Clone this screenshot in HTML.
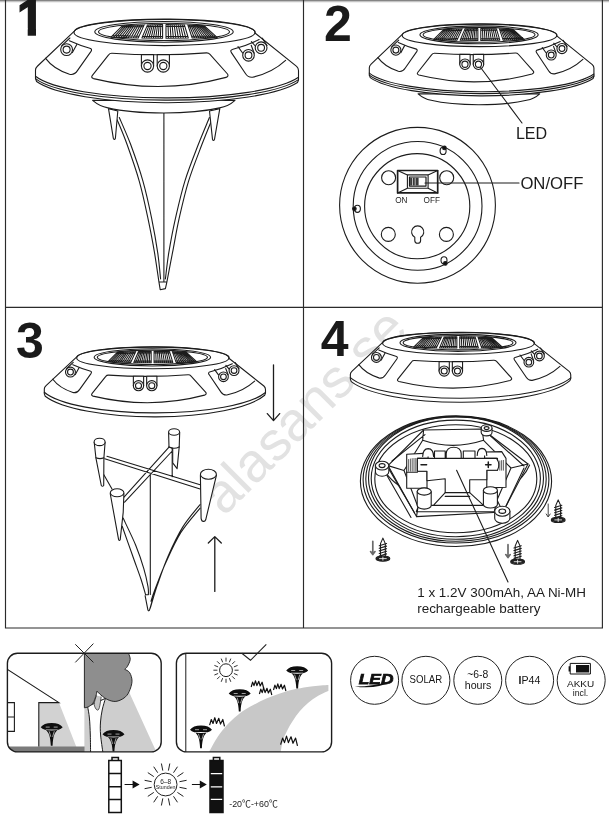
<!DOCTYPE html>
<html lang="en"><head><meta charset="utf-8"><title>Solar ground light - instructions</title>
<style>
html,body{margin:0;padding:0;background:#fff}
svg{display:block;will-change:transform;transform:translateZ(0)}
text{font-family:"Liberation Sans","Noto Sans CJK SC",sans-serif;fill:#1c1c1c}
.ln{stroke:#1c1c1c;stroke-width:1.1;fill:none;stroke-linecap:round;stroke-linejoin:round}
.ns *,#lamp *,#lampB *{vector-effect:non-scaling-stroke}
.hat{stroke-width:1.05}
.num{font-weight:bold;font-size:50px;fill:#1a1a1a}
.ic{fill:#151515}
.frame{stroke:#2b2b2b;stroke-width:1.15;fill:none}
</style></head><body>
<svg width="609" height="824" viewBox="0 0 609 824">
<rect width="609" height="824" fill="#fff"/>
<defs>
<g id="lamp" fill="none">
<path fill="#fff" d="M74.1 31.4 L37.6 66 Q35.5 68 35.5 70 L35.5 78.5 L36.6 81.5 A137 29.8 0 0 0 297.5 82.5 L298.5 80.0 L298.5 70.5 Q298.5 68.2 296.6 66.4 L255 33 A90.5 13.05 0 0 0 74.1 31.4Z"/>
<ellipse cx="164.5" cy="32.55" rx="90.5" ry="13.05"/>
<ellipse cx="164" cy="31.85" rx="69.2" ry="10.35"/>
<ellipse cx="164" cy="31.85" rx="65.5" ry="8.65"/>
<path class="hat" d="M122.5 25.7L111.0 37.2M124.5 25.6L113.5 37.3M126.4 25.6L115.9 37.3M128.4 25.5L118.4 37.4M130.4 25.4L120.9 37.5M132.4 25.3L123.4 37.6M134.3 25.3L125.8 37.6M136.3 25.2L128.3 37.7M138.3 25.1L130.8 37.8M140.3 25.0L133.3 37.9M142.2 25.0L135.7 37.9M144.2 24.9L138.2 38.0M121.1 27.1L143.5 26.5M112.6 35.6L139.0 36.2M122.5 25.7L144.2 24.9L138.2 38L111 37.2ZM147.5 24.9L141.9 38.0M149.2 24.9L144.2 38.0M150.9 24.8L146.5 38.1M152.5 24.8L148.8 38.1M154.2 24.8L151.1 38.1M155.9 24.7L153.4 38.2M157.6 24.7L155.7 38.2M159.2 24.7L158.0 38.2M160.9 24.6L160.3 38.3M162.6 24.6L162.6 38.3M146.8 26.5L162.6 26.2M142.7 36.2L162.6 36.4M147.5 24.9L162.6 24.6L162.6 38.3L141.9 38ZM166.0 24.6L166.0 38.3M168.0 24.6L168.5 38.3M170.1 24.7L171.0 38.2M172.1 24.7L173.4 38.2M174.2 24.7L175.9 38.2M176.2 24.8L178.4 38.1M178.3 24.8L180.9 38.1M180.3 24.8L183.3 38.1M182.4 24.9L185.8 38.0M184.4 24.9L188.3 38.0M166.0 26.2L184.9 26.5M166.0 36.4L187.8 36.2M166 24.6L184.4 24.9L188.3 38L166 38.3ZM187.8 24.9L192.2 38.0M189.3 25.0L194.5 38.0M190.8 25.0L196.8 37.9M192.3 25.1L199.0 37.9M193.8 25.2L201.3 37.9M195.3 25.3L203.6 37.8M196.7 25.3L205.9 37.8M198.2 25.4L208.2 37.7M199.7 25.5L210.5 37.7M201.2 25.6L212.7 37.7M202.7 25.6L215.0 37.6M204.2 25.7L217.3 37.6M188.3 26.5L205.8 27.1M191.6 36.2L215.5 35.9M187.8 24.9L204.2 25.7L217.3 37.6L192.2 38Z"/>
<path d="M112 53.3 Q160 56.5 206.5 52.9 Q208.6 52.8 210 54.4 L227.5 74 Q229 76.2 226 77.4 Q161 95 93.5 78.6 Q90.6 77.6 92.4 75.3 L108.6 54.8 Q109.8 53.2 112 53.3Z"/>
<path fill="#fff" d="M141.4 66 L141.4 54.6 L153.6 54.6 L153.6 66"/>
<circle fill="#fff" cx="147.5" cy="66" r="6.1"/><circle cx="147.5" cy="66" r="3.6"/>
<path fill="#fff" d="M157.20000000000002 66 L157.20000000000002 54.6 L169.4 54.6 L169.4 66"/>
<circle fill="#fff" cx="163.3" cy="66" r="6.1"/><circle cx="163.3" cy="66" r="3.6"/>
<path d="M69.4 40.7 Q80 45.5 89.8 48.2 Q92.6 49 91 51.4 L77.6 70.4 Q74.4 75.4 69.5 74.2 Q53.5 69 45.6 58.3"/>
<path fill="#fff" d="M61.8 45.6 L69.9 38 M72.4 52.6 L76.8 44.4"/>
<circle fill="#fff" cx="66.6" cy="49.6" r="5.9"/><circle cx="66.6" cy="49.6" r="3.5"/>
<path d="M259.1 39.6 Q246 46 233 49.3 Q229.6 50.2 231.4 52.6 L245.6 73.8 Q248 77.6 252.5 77.2 Q272 73 285.6 60.4"/>
<path d="M242.6 53 L238 46.6 M254.2 53.2 L251.2 45.3 M255.3 46 L251.4 41.6 M267 45.6 L262.4 38.2"/>
<circle fill="#fff" cx="248.5" cy="55.3" r="5.8"/><circle cx="248.5" cy="55.3" r="3.4"/>
<circle fill="#fff" cx="261.1" cy="47.8" r="5.9"/><circle cx="261.1" cy="47.8" r="3.4"/>
</g>
<g id="lampB" fill="none">
<path fill="#fff" d="M74.1 31.4 L37.6 66 Q35.5 68 35.5 70 L35.5 75.7 L36.6 78.7 A137 36.6 0 0 0 297.5 77.5 L298.5 75.0 L298.5 70.5 Q298.5 68.2 296.6 66.4 L255 33 A90.5 13.05 0 0 0 74.1 31.4Z"/>
<ellipse cx="164.5" cy="32.55" rx="90.5" ry="13.05"/>
<ellipse cx="164" cy="31.85" rx="69.2" ry="10.35"/>
<ellipse cx="164" cy="31.85" rx="65.5" ry="8.65"/>
<path class="hat" d="M122.5 25.7L111.0 37.2M124.5 25.6L113.5 37.3M126.4 25.6L115.9 37.3M128.4 25.5L118.4 37.4M130.4 25.4L120.9 37.5M132.4 25.3L123.4 37.6M134.3 25.3L125.8 37.6M136.3 25.2L128.3 37.7M138.3 25.1L130.8 37.8M140.3 25.0L133.3 37.9M142.2 25.0L135.7 37.9M144.2 24.9L138.2 38.0M121.1 27.1L143.5 26.5M112.6 35.6L139.0 36.2M122.5 25.7L144.2 24.9L138.2 38L111 37.2ZM147.5 24.9L141.9 38.0M149.2 24.9L144.2 38.0M150.9 24.8L146.5 38.1M152.5 24.8L148.8 38.1M154.2 24.8L151.1 38.1M155.9 24.7L153.4 38.2M157.6 24.7L155.7 38.2M159.2 24.7L158.0 38.2M160.9 24.6L160.3 38.3M162.6 24.6L162.6 38.3M146.8 26.5L162.6 26.2M142.7 36.2L162.6 36.4M147.5 24.9L162.6 24.6L162.6 38.3L141.9 38ZM166.0 24.6L166.0 38.3M168.0 24.6L168.5 38.3M170.1 24.7L171.0 38.2M172.1 24.7L173.4 38.2M174.2 24.7L175.9 38.2M176.2 24.8L178.4 38.1M178.3 24.8L180.9 38.1M180.3 24.8L183.3 38.1M182.4 24.9L185.8 38.0M184.4 24.9L188.3 38.0M166.0 26.2L184.9 26.5M166.0 36.4L187.8 36.2M166 24.6L184.4 24.9L188.3 38L166 38.3ZM187.8 24.9L192.2 38.0M189.3 25.0L194.5 38.0M190.8 25.0L196.8 37.9M192.3 25.1L199.0 37.9M193.8 25.2L201.3 37.9M195.3 25.3L203.6 37.8M196.7 25.3L205.9 37.8M198.2 25.4L208.2 37.7M199.7 25.5L210.5 37.7M201.2 25.6L212.7 37.7M202.7 25.6L215.0 37.6M204.2 25.7L217.3 37.6M188.3 26.5L205.8 27.1M191.6 36.2L215.5 35.9M187.8 24.9L204.2 25.7L217.3 37.6L192.2 38Z"/>
<path d="M112 53.3 Q160 56.5 206.5 52.9 Q208.6 52.8 210 54.4 L227.5 74 Q229 76.2 226 77.4 Q161 95 93.5 78.6 Q90.6 77.6 92.4 75.3 L108.6 54.8 Q109.8 53.2 112 53.3Z"/>
<path fill="#fff" d="M141.4 66 L141.4 54.6 L153.6 54.6 L153.6 66"/>
<circle fill="#fff" cx="147.5" cy="66" r="6.1"/><circle cx="147.5" cy="66" r="3.6"/>
<path fill="#fff" d="M157.20000000000002 66 L157.20000000000002 54.6 L169.4 54.6 L169.4 66"/>
<circle fill="#fff" cx="163.3" cy="66" r="6.1"/><circle cx="163.3" cy="66" r="3.6"/>
<path d="M69.4 40.7 Q80 45.5 89.8 48.2 Q92.6 49 91 51.4 L77.6 70.4 Q74.4 75.4 69.5 74.2 Q53.5 69 45.6 58.3"/>
<path fill="#fff" d="M61.8 45.6 L69.9 38 M72.4 52.6 L76.8 44.4"/>
<circle fill="#fff" cx="66.6" cy="49.6" r="5.9"/><circle cx="66.6" cy="49.6" r="3.5"/>
<path d="M259.1 39.6 Q246 46 233 49.3 Q229.6 50.2 231.4 52.6 L245.6 73.8 Q248 77.6 252.5 77.2 Q272 73 285.6 60.4"/>
<path d="M242.6 53 L238 46.6 M254.2 53.2 L251.2 45.3 M255.3 46 L251.4 41.6 M267 45.6 L262.4 38.2"/>
<circle fill="#fff" cx="248.5" cy="55.3" r="5.8"/><circle cx="248.5" cy="55.3" r="3.4"/>
<circle fill="#fff" cx="261.1" cy="47.8" r="5.9"/><circle cx="261.1" cy="47.8" r="3.4"/>
</g>
</defs>
<text transform="translate(224 517) rotate(-45)" font-size="55" style="fill:#e2e2e2">alasans.se</text>
<rect x="0" y="0" width="609" height="1" fill="#858585"/><rect x="0" y="1" width="609" height="1" fill="#c4c4c4"/><rect x="0" y="2" width="609" height="1" fill="#efefef"/>
<path class="frame" d="M5.5 0V628H602.4V0 M303.5 0V628 M5.5 307.4H602.4"/>
<text class="num" x="16.7" y="34.6" style="stroke:#1a1a1a;stroke-width:1.3px">1</text>
<path fill="#fff" d="M8 28.6H27.7V38H8Z M36 28.6H47V38H36Z"/>
<text class="num" x="323.9" y="41">2</text>
<text class="num" x="16" y="357.7">3</text>
<text class="num" x="320.7" y="355.6">4</text>
<g class="ln">
<path d="M163.9 113V282 M117.1 119.7C118.8 123.8 123.3 134.0 127.0 144.3C130.7 154.6 135.8 169.0 139.3 181.3C142.8 193.6 145.4 206.3 147.9 218.2C150.4 230.1 152.7 242.0 154.5 252.7C156.3 263.4 158.2 277.4 159.0 282.3M119.3 117.5C121.2 122.0 126.6 133.7 130.6 144.3C134.5 154.9 139.5 169.0 143.0 181.3C146.5 193.6 149.2 206.3 151.6 218.2C154.0 230.1 156.2 242.6 157.7 252.7C159.2 262.8 160.1 274.6 160.6 279.0M211.9 119.7C210.2 123.8 205.9 134.0 202.0 144.3C198.1 154.6 192.3 169.0 188.5 181.3C184.7 193.6 181.9 206.3 179.2 218.2C176.5 230.1 174.6 242.0 172.5 252.7C170.4 263.4 167.8 277.4 166.8 282.3M209.4 117.5C207.6 122.0 202.5 133.7 198.4 144.3C194.3 154.9 188.6 169.0 184.8 181.3C181.0 193.6 178.2 206.3 175.5 218.2C172.8 230.1 170.5 242.6 168.8 252.7C167.1 262.8 166.0 274.6 165.4 279.0M159 282.3L160.2 289.7L165.4 288.6L166.8 282.3 M159 282H166.8"/>
<path fill="#fff" d="M108.5 108.6L113.3 138.2Q114.4 140.6 115.4 138.2L117.8 111Z M219.8 108.6L214.5 139.4Q213.4 141.4 212.5 139.4L209.5 111Z"/>
<path fill="#fff" d="M92.6 100.4C98 105 103 107 107.9 107.9C125 112 145 113 163.7 113S202 112 219.6 107.9C225 107 230 105 235 100.4Z"/>
<g class="ns" transform="translate(0.00 0.00) scale(1 1)"><use href="#lamp"/><path fill="none" d="M35.5 76.3A137 29.3 0 0 0 298.5 77.3M35.5 78.6A137 29.2 0 0 0 298.5 79.6"/></g>
</g>
<g class="ln">
<g class="ns" transform="translate(339 7.4) scale(.854 .861)"><path fill="#fff" d="M92.6 100.4C98 105 103 107 107.9 107.9C125 112 145 113 163.7 113S202 112 219.6 107.9C225 107 230 105 235 100.4Z"/><use href="#lamp"/><path fill="none" d="M35.5 76.3A137 29.3 0 0 0 298.5 77.3M35.5 78.6A137 29.2 0 0 0 298.5 79.6"/></g>
<path d="M480.6 67.5L522 123"/>
<circle cx="417.5" cy="205.3" r="77.9"/><circle cx="417.6" cy="205.9" r="64.4"/><circle cx="417.2" cy="206.2" r="52.6"/>
<circle cx="388.6" cy="177.7" r="7"/>
<circle cx="446.7" cy="177.7" r="7"/>
<circle cx="388.3" cy="234.4" r="7"/>
<circle cx="446.4" cy="234.4" r="7"/>
<path d="M414.8 237.3A6.1 6.1 0 1 1 420.6 237.3L420.6 240.4A2.9 2.9 0 0 1 414.8 240.4Z"/>
<path stroke-width="1.7" d="M397.6 170.5H437.7V192.9H397.6Z"/>
<path d="M397.6 170.5L407.4 174.9H428.1L437.7 170.5M397.6 192.9L407.4 188.2H428.1L437.7 192.9M407.4 174.9V188.2M428.1 174.9V188.2"/>
<path fill="#fff" stroke-width="1.2" d="M409.5 177H426V186.1H409.5Z"/>
<path fill="#3a3a3a" stroke="none" d="M410.1 177.6H418.6V185.5H410.1Z"/>
<path stroke="#ddd" stroke-width=".8" d="M412.5 178.2V185M415.2 178.2V185"/>
<path d="M425 183H519"/>
<ellipse cx="443.1" cy="150.9" rx="3" ry="3.6"/><circle cx="444.4" cy="147.9" r="1.8" fill="#111"/>
<ellipse cx="357.4" cy="208.8" rx="3" ry="3.6"/><circle cx="354.4" cy="208.8" r="1.8" fill="#111"/>
<ellipse cx="444" cy="260.3" rx="3" ry="3.6"/><circle cx="445.3" cy="263.4" r="1.8" fill="#111"/>
</g>
<text x="515.9" y="138.8" font-size="16.1">LED</text>
<text x="520.4" y="188.5" font-size="16.7">ON/OFF</text>
<text x="395.2" y="202.7" font-size="8.2">ON</text>
<text x="423.6" y="202.7" font-size="8.2">OFF</text>
<g class="ln">
<g class="ns" transform="translate(14.45 330.9) scale(.841 .83)"><use href="#lampB"/><path fill="none" d="M35.5 73.9A137 34.4 0 0 0 298.5 74.2"/></g>
<path d="M172.2 448V476.7 M103.7 474.5L112 489.1 M150.3 475V594.5 M106.9 456.3L200.1 484.7 M104.7 458.8L200.1 489.1 M169 447.1L124 497.1 M174.1 449L124.6 502.2M122.2 526.2C123.8 530.9 128.9 545.3 132.1 554.2C135.2 563.1 138.8 572.7 141.1 579.5C143.3 586.3 144.8 592.2 145.6 594.8M123.1 518.1C125.2 522.6 132.2 536.8 135.7 545.2C139.1 553.6 141.8 561.7 143.8 568.6C145.9 575.5 147.2 582.3 148.0 586.7C148.8 591.1 148.3 593.4 148.4 594.8H145.6M200.1 504.5C197.2 508.3 188.0 518.5 182.7 527.1C177.4 535.7 172.4 546.4 168.2 556.0C164.0 565.6 160.4 576.2 157.4 584.9C154.4 593.6 151.4 604.5 150.2 608.4M200.1 508.1C196.9 512.2 186.7 523.3 180.9 532.5C175.1 541.7 169.9 553.6 165.5 563.2C161.1 572.8 157.1 584.0 154.7 590.3C152.3 596.6 151.6 599.4 151.0 601.2 M145.1 595.7L148 610.3Q148.7 611.4 149.4 610.3L152.9 598.4"/>
<path fill="#fff" d="M94.2 442.2L95.9 457.8L101.3 485.5Q102.5 487 103.7 485.5L103.9 457.8L105.1 442.2Z"/><path d="M95.9 457.8Q100 459.4 103.9 457.8"/><ellipse fill="#fff" cx="99.6" cy="441.9" rx="5.5" ry="3.7"/>
<path fill="#fff" d="M168.6 432.3L169 446.9L172.7 448.3L172.7 462.9L177.1 468.7L179.2 446.9L179.7 432.3Z"/><path d="M169 446.9Q174 449.6 179.2 446.9"/><ellipse fill="#fff" cx="174.1" cy="432" rx="5.5" ry="3.3"/>
<path fill="#fff" d="M110.2 493.5L118.6 539.6Q119.4 541.4 120.2 539.6L123.2 512.4L123.9 493.5Z"/><ellipse fill="#fff" cx="117.1" cy="492.8" rx="6.8" ry="4"/>
<path fill="#fff" d="M200.4 475.3L201.1 518.3Q201.6 521.6 203.6 521.4Q205 521.6 205.7 519.8L216.4 475.3Z"/><ellipse fill="#fff" cx="208.4" cy="474.3" rx="8" ry="5"/>
<path stroke-width="1.3" d="M273.5 364.8V420.4M267.3 413.6L273.5 420.6L279.7 413.6"/>
<path stroke-width="1.3" d="M214.8 591.4V537M208.3 543L214.8 536.6L221.3 543"/>
</g>
<g class="ln">
<g class="ns" transform="translate(320.6 316.3) scale(.838 .83)"><use href="#lampB"/><path fill="none" d="M35.5 73.9A137 34.4 0 0 0 298.5 74.2"/></g>
<ellipse cx="456" cy="481.2" rx="95.6" ry="65.3"/>
<ellipse cx="456" cy="479.65" rx="92.9" ry="63.35"/>
<ellipse cx="456" cy="478.95" rx="90.2" ry="62.35"/>
<ellipse cx="456" cy="478.1" rx="87.5" ry="61.2"/>
<ellipse cx="455.8" cy="478.4" rx="84.6" ry="58.3"/>
<ellipse cx="455.8" cy="478.7" rx="81" ry="54"/>
<path d="M381.6 465A76.5 49 0 0 0 529.6 465"/>
<path fill="#fff" d="M388 465.6L423.6 430L482 429L528 464L503 512L416.5 516.6Z"/>
<path d="M388 465.6L404 470.5 M423.6 430L422.7 440.3 M482 429L483.6 440.3 M528 464L511 468 M503 512L497 500 M416.5 516.6L418 507 M404 470.5L422.7 440.3Q452.6 450.5 483.6 440.3L511 468L497 500 M404 470.5L418 507 M389.3 469.6L414.6 513 M385.7 473.2L411 517.5 M392 461L425 434.6 M486.2 432L524 466 M524 468L506 506 M418 507L416.3 511.8H494.2L497 500"/>
<path fill="#fff" d="M406.7 454.2L428.1 453.1V458.4H417.4V471.2H427V488.3H406.7Z"/>
<path fill="#fff" d="M484.6 452L501.7 451.6L506 458.4V487.2L486.8 487.9V470.2H497.5V458.4H484.6Z"/>
<path stroke-width=".7" d="M408.6 459.5V471.2M410.4 459V471.2M412.2 458.6V471.2M414 458.4V471.2M415.8 458.4V471.2 M499.8 461V470.2M501.6 460.6V470.2M503.4 460.4V470.2"/>
<path d="M406.7 472.3H417.4"/>
<path fill="#fff" d="M422.7 456.4Q422.8 448.8 428.2 448.6Q433.4 448.8 433.6 456.4 M477.2 455.4Q477.4 448.6 482 448.4Q486.6 448.6 486.8 455.4 M434.5 458.4V451H445.2V458.4 M463.3 458.4V451H475V458.4 M446.2 458.4V453.6Q446.6 447.2 453.7 447.2Q460.8 447.2 461.2 453.6V458.4"/>
<path fill="#fff" d="M417.4 458.4H496.6Q500.6 464.3 497.5 470.2H486.8V479.8H469.7V492.6H445.2V478.7L427 480.8V471.2H417.4Z"/>
<path stroke-width="1.5" d="M421 464.8H426.6 M485.6 464.8H491 M488.3 462.1V467.5"/>
<path d="M445.2 492.6L433.4 505.4 M469.7 492.6L482.5 504.3 M445.2 496.4H469.7 M431.2 505.4H483.4"/>
<path fill="#fff" d="M417.2 491.5V505.5A7 3.6 0 0 0 431.2 505.5V491.5"/><ellipse fill="#fff" cx="424.2" cy="491.5" rx="7" ry="3.6"/>
<path fill="#fff" d="M483.4 490.4V504.4A7 3.6 0 0 0 497.4 504.4V490.4"/><ellipse fill="#fff" cx="490.4" cy="490.4" rx="7" ry="3.6"/>
<path fill="#fff" d="M375.40000000000003 465.6V471.8A6.7 4.4 0 0 0 388.8 471.8V465.6"/><ellipse fill="#fff" cx="382.1" cy="465.6" rx="6.7" ry="4.4"/><ellipse cx="382.1" cy="465.6" rx="3.0" ry="2.0"/>
<path fill="#fff" d="M481.20000000000005 428.1V432.6A5.4 3.3 0 0 0 492.0 432.6V428.1"/><ellipse fill="#fff" cx="486.6" cy="428.1" rx="5.4" ry="3.3"/><ellipse cx="486.6" cy="428.1" rx="2.4" ry="1.5"/>
<path fill="#fff" d="M494.7 511.2V518.2A7.6 5 0 0 0 509.90000000000003 518.2V511.2"/><ellipse fill="#fff" cx="502.3" cy="511.2" rx="7.6" ry="5"/><ellipse cx="502.3" cy="511.2" rx="3.4" ry="2.2"/>
<path d="M456.6 470.2L508 582"/>
<path fill="#fff" d="M382.9 538.1L380.5 543.6V556.5H385.29999999999995V543.6Z"/><path stroke-width="1.2" d="M379.3 545.7L386.5 543.5M379.3 548.3L386.5 546.1M379.3 550.9L386.5 548.7M379.3 553.5L386.5 551.3M379.3 556.1L386.5 553.9"/><ellipse fill="#222" cx="382.9" cy="558.6" rx="6.9" ry="2.6"/><path stroke="#fff" stroke-width=".8" d="M379.5 558.6H386.3M382.9 557.0V560.2"/>
<path fill="#fff" d="M558.2 499.9L555.8000000000001 505.4V517.8H560.6V505.4Z"/><path stroke-width="1.2" d="M554.6 507.5L561.8 505.3M554.6 510.1L561.8 507.9M554.6 512.7L561.8 510.5M554.6 515.3L561.8 513.1M554.6 517.9L561.8 515.7"/><ellipse fill="#222" cx="558.2" cy="519.9" rx="6.9" ry="2.6"/><path stroke="#fff" stroke-width=".8" d="M554.8 519.9H561.6M558.2 518.3V521.5"/>
<path fill="#fff" d="M517.6 540.4L515.2 545.9V559.6H520.0V545.9Z"/><path stroke-width="1.2" d="M514.0 548.0L521.2 545.8M514.0 550.6L521.2 548.4M514.0 553.2L521.2 551.0M514.0 555.8L521.2 553.6M514.0 558.4L521.2 556.2"/><ellipse fill="#222" cx="517.6" cy="561.7" rx="6.9" ry="2.6"/><path stroke="#fff" stroke-width=".8" d="M514.2 561.7H521.0M517.6 560.1V563.3"/>
<path stroke="#6a6a6a" stroke-width="1.7" d="M372.8 541.3V554M370.6 551.6L372.8 554.6L375 551.6 M508 544.7V557M505.8 554.6L508 557.6L510.2 554.6"/>
<path stroke="#444" stroke-width="1" d="M548.2 504V516.6M546.2 514L548.2 517L550.2 514"/>
</g>
<text x="417.2" y="596.7" font-size="13.45">1 x 1.2V 300mAh, AA Ni-MH</text>
<text x="417.2" y="612.9" font-size="13.45">rechargeable battery</text>
<clipPath id="cl"><rect x="7.4" y="653.3" width="153.8" height="98.6" rx="10" ry="10"/></clipPath>
<g clip-path="url(#cl)">
<path fill="#d2d2d2" d="M38.8 702.6H58.9L76.4 747H38.8Z"/>
<path fill="#cecece" d="M84.4 705L128.6 691L156.4 752H84.4Z"/>
<path fill="#7b7b7b" d="M9 746.4H84.6V752H9Z"/>
<path fill="#fff" stroke="#1c1c1c" stroke-width="1" d="M87.6 706.5C87.9 708.4 89.0 713.2 89.4 718.0C89.9 722.8 90.1 729.2 90.3 735.0C90.5 740.8 90.5 749.6 90.6 752.5L102.9 752.5C102.5 749.6 101.0 740.1 100.6 735.0C100.2 729.9 100.2 726.2 100.5 722.0C100.8 717.8 101.4 713.9 102.2 710.0C103.0 706.1 104.9 700.3 105.4 698.4Z"/>
<path fill="#c6c6c6" stroke="#333" stroke-width=".8" d="M96.4 695.5C96.0 697.0 94.1 701.9 94.2 704.3C94.3 706.7 96.1 709.5 97.0 710.0C97.9 710.5 98.7 709.8 99.4 707.6C100.1 705.4 100.9 698.4 101.2 696.6"/>
<path fill="#8e8e8e" stroke="#2a2a2a" stroke-width="1" stroke-linejoin="round" d="M84.4 653.5H128.6L128.6 653.5C128.9 654.5 130.4 657.4 130.2 659.5C130.0 661.6 128.3 664.8 127.4 666.4C126.5 668.0 125.2 668.8 124.8 669.3L124.8 669.3C125.6 669.9 128.5 670.7 129.7 672.7C130.9 674.7 132.1 678.1 132.0 681.3C131.9 684.5 130.4 688.9 129.1 691.7C127.8 694.5 126.2 696.4 124.0 698.0C121.8 699.6 118.6 701.1 115.9 701.4C113.2 701.7 110.4 700.8 107.9 699.7C105.4 698.7 102.8 696.5 101.0 695.1C99.2 693.7 97.7 691.8 97.0 691.1L97.0 691.1C96.8 692.0 96.5 694.3 95.8 696.3C95.1 698.3 94.2 701.5 92.9 703.2C91.7 705.0 89.7 706.0 88.3 706.8C86.9 707.6 85.1 707.6 84.4 707.8Z"/>
<path fill="none" stroke="#1c1c1c" stroke-width="1.1" d="M6.3 668.7L58.9 702.6H38.8V746.4 M7 702.6H14.4V731.4H7 M7 717H14.4"/>
<path fill="#0e0e0e" d="M40.7 727.2Q43.7 722.9 51.7 722.9Q59.7 722.9 62.7 727.2Q59.7 730.4 51.7 730.4Q43.7 730.4 40.7 727.2ZM45.5 729.4C48.7 732.3 50.4 735.8 50.8 745.8H52.6C53.0 735.8 54.7 732.3 57.9 729.4Z"/><path stroke="#ddd" stroke-width=".7" fill="none" d="M45.7 727.1H49.7M53.7 727.1H57.7M49.1 731.2L50.8 736.8M54.3 731.2L52.6 736.8"/>
<path fill="#0e0e0e" d="M102.5 734.2Q105.5 729.9 113.5 729.9Q121.5 729.9 124.5 734.2Q121.5 737.4 113.5 737.4Q105.5 737.4 102.5 734.2ZM107.3 736.4C110.5 739.3 112.2 742.8 112.6 751.6H114.4C114.8 742.8 116.5 739.3 119.7 736.4Z"/><path stroke="#ddd" stroke-width=".7" fill="none" d="M107.5 734.1H111.5M115.5 734.1H119.5M110.9 738.2L112.6 743.8M116.1 738.2L114.4 743.8"/>
</g>
<rect x="7.4" y="653.3" width="153.8" height="98.6" rx="10" ry="10" fill="none" stroke="#1c1c1c" stroke-width="1.4"/>
<path fill="none" stroke="#222" stroke-width="1" d="M75.3 644.3L93.4 662.4M93.4 643.6L75.3 662.4"/>
<clipPath id="cr"><rect x="176.4" y="653.3" width="155.2" height="98.6" rx="10" ry="10"/></clipPath>
<g clip-path="url(#cr)">
<path fill="#c8c8c8" d="M209.0 752.0C210.5 749.4 214.7 741.3 217.9 736.5C221.1 731.7 224.7 727.3 228.4 723.4C232.1 719.5 236.0 716.0 240.2 712.9C244.3 709.8 248.8 707.4 253.3 705.0C257.8 702.6 262.1 700.4 267.0 698.3C271.9 696.2 278.0 694.0 283.0 692.4C288.0 690.8 292.3 689.8 297.0 688.8C301.7 687.8 305.8 687.0 311.0 686.4C316.2 685.8 325.5 685.2 328.4 685.0L328.4 691.0C326.6 691.8 321.2 693.9 317.8 695.9C314.4 697.9 311.0 700.3 308.0 702.9C305.0 705.5 302.2 708.3 299.7 711.3C297.1 714.3 294.8 717.8 292.7 721.0C290.6 724.2 288.7 727.5 287.1 730.8C285.5 734.1 283.9 737.1 282.9 740.6C281.8 744.1 281.1 750.1 280.8 752.0Z"/>
<path fill="none" stroke="#1c1c1c" stroke-width="1" d="M185.8 653V752"/>
<path fill="#0e0e0e" d="M190.0 729.8Q193.0 725.5 201 725.5Q209.0 725.5 212.0 729.8Q209.0 733.0 201 733.0Q193.0 733.0 190.0 729.8ZM194.8 732.0C198.0 734.9 199.7 738.4 200.1 748.3H201.9C202.3 738.4 204.0 734.9 207.2 732.0Z"/><path stroke="#ddd" stroke-width=".7" fill="none" d="M195.0 729.7H199.0M203.0 729.7H207.0M198.4 733.8L200.1 739.4M203.6 733.8L201.9 739.4"/>
<path fill="#0e0e0e" d="M228.7 693.6Q231.7 689.3 239.7 689.3Q247.7 689.3 250.7 693.6Q247.7 696.8 239.7 696.8Q231.7 696.8 228.7 693.6ZM233.5 695.8C236.7 698.7 238.4 702.2 238.8 711.6H240.6C241.0 702.2 242.7 698.7 245.9 695.8Z"/><path stroke="#ddd" stroke-width=".7" fill="none" d="M233.7 693.5H237.7M241.7 693.5H245.7M237.1 697.6L238.8 703.2M242.3 697.6L240.6 703.2"/>
<path fill="#0e0e0e" d="M286.2 670.6Q289.2 666.3 297.2 666.3Q305.2 666.3 308.2 670.6Q305.2 673.8 297.2 673.8Q289.2 673.8 286.2 670.6ZM291.0 672.8C294.2 675.7 295.9 679.2 296.3 688.5H298.1C298.5 679.2 300.2 675.7 303.4 672.8Z"/><path stroke="#ddd" stroke-width=".7" fill="none" d="M291.2 670.5H295.2M299.2 670.5H303.2M294.6 674.6L296.3 680.2M299.8 674.6L298.1 680.2"/>
<path fill="none" stroke="#111" stroke-width="1.2" stroke-linejoin="round" d="M209.6 725.2L211.3 719.5L213.0 723.5L214.8 717.7L216.5 723.5L218.8 718.3L220.5 724.1L222.8 719.5L224.5 726.4"/>
<path fill="none" stroke="#111" stroke-width="1.2" stroke-linejoin="round" d="M251.2 687.0L252.6 682.2L254.0 685.6L255.5 680.8L256.9 685.6L258.8 681.3L260.2 686.0L262.1 682.2L263.6 688.0"/>
<path fill="none" stroke="#111" stroke-width="1.2" stroke-linejoin="round" d="M259.4 694.0L260.8 689.2L262.2 692.6L263.7 687.8L265.1 692.6L267.0 688.3L268.4 693.0L270.3 689.2L271.8 695.0"/>
<path fill="none" stroke="#111" stroke-width="1.2" stroke-linejoin="round" d="M273.5 690.0L274.9 685.2L276.4 688.6L277.8 683.8L279.2 688.6L281.1 684.3L282.5 689.0L284.4 685.2L285.9 691.0"/>
<path fill="none" stroke="#111" stroke-width="1.2" stroke-linejoin="round" d="M280.6 744.6L282.6 738.1L284.5 742.6L286.5 736.1L288.4 742.6L291.0 736.8L293.0 743.3L295.6 738.1L297.5 745.9"/>
<circle cx="226" cy="670.2" r="6.4" fill="#fff" stroke="#1c1c1c" stroke-width="1"/><path stroke="#1c1c1c" stroke-width=".9" d="M234.6 670.2L238.6 670.2M233.9 673.5L237.6 675.0M232.1 676.3L234.9 679.1M229.3 678.1L230.8 681.8M226.0 678.8L226.0 682.8M222.7 678.1L221.2 681.8M219.9 676.3L217.1 679.1M218.1 673.5L214.4 675.0M217.4 670.2L213.4 670.2M218.1 666.9L214.4 665.4M219.9 664.1L217.1 661.3M222.7 662.3L221.2 658.6M226.0 661.6L226.0 657.6M229.3 662.3L230.8 658.6M232.1 664.1L234.9 661.3M233.9 666.9L237.6 665.4"/>
</g>
<rect x="176.4" y="653.3" width="155.2" height="98.6" rx="10" ry="10" fill="none" stroke="#1c1c1c" stroke-width="1.4"/>
<path fill="none" stroke="#222" stroke-width="1.1" d="M241.8 653.2L250.5 660.3L266.3 644.3"/>
<g fill="none" stroke="#111" stroke-width="1.5">
<path d="M108.8 760.6H121.3V812.4H108.8Z M108.8 773.6H121.3M108.8 786.8H121.3M108.8 799.4H121.3 M112 760.4V757.4H118.4V760.4"/>
<path fill="#111" d="M210 760.6H223V812.4H210Z"/><path d="M213.4 760.4V757.4H219.8V760.4"/>
<path stroke="#fff" stroke-width="1.3" d="M210.8 773.6H222.2M210.8 786.8H222.2M210.8 799.4H222.2"/>
<path stroke-width="1.2" d="M124.6 784.5H134 M191.9 784.5H201"/><path fill="#111" stroke="none" d="M132.6 780.4L139.6 784.5L132.6 788.6Z M199.8 780.4L206.8 784.5L199.8 788.6Z"/>
<circle cx="165.6" cy="784.5" r="11.4" stroke-width="1" stroke="#222"/><path stroke-width="1" stroke="#222" d="M179.5 787.3L186.6 788.7M177.4 792.4L183.4 796.4M173.5 796.3L177.5 802.3M168.4 798.4L169.8 805.5M162.8 798.4L161.4 805.5M157.7 796.3L153.7 802.3M153.8 792.4L147.8 796.4M151.7 787.3L144.6 788.7M151.7 781.7L144.6 780.3M153.8 776.6L147.8 772.6M157.7 772.7L153.7 766.7M162.8 770.6L161.4 763.5M168.4 770.6L169.8 763.5M173.5 772.7L177.5 766.7M177.4 776.6L183.4 772.6M179.5 781.7L186.6 780.3"/>
</g>
<text x="165.8" y="783.6" font-size="6.5" text-anchor="middle">6–8</text>
<text x="165.7" y="789.4" font-size="5.3" text-anchor="middle">Stunden</text>
<text x="229.2" y="806.5" font-size="8.9" style="font-family:'Liberation Sans','Noto Sans CJK SC',sans-serif">-20℃-+60℃</text>
<circle cx="374.6" cy="680.3" r="24" fill="#fff" stroke="#222" stroke-width="1"/>
<circle cx="425.9" cy="680.3" r="24" fill="#fff" stroke="#222" stroke-width="1"/>
<circle cx="477.8" cy="680.3" r="24" fill="#fff" stroke="#222" stroke-width="1"/>
<circle cx="529.6" cy="680.3" r="24" fill="#fff" stroke="#222" stroke-width="1"/>
<circle cx="581.2" cy="680.3" r="24" fill="#fff" stroke="#222" stroke-width="1"/>
<text x="358.8" y="683.9" font-size="15" font-weight="bold" font-style="italic" textLength="34.6" lengthAdjust="spacingAndGlyphs" style="fill:#111;stroke:#111;stroke-width:.75px">LED</text>
<path fill="#111" d="M354.6 686.4Q372 686.6 394 680.4Q376 689.8 354.6 686.4Z"/>
<text class="ic" x="409.5" y="683.2" font-size="10.1" textLength="32.6" lengthAdjust="spacingAndGlyphs">SOLAR</text>
<text class="ic" x="467.2" y="678.1" font-size="10.3" textLength="21" lengthAdjust="spacingAndGlyphs">~6-8</text>
<text class="ic" x="464.8" y="688.6" font-size="10.4" textLength="26.6" lengthAdjust="spacingAndGlyphs">hours</text>
<text class="ic" x="518.6" y="683.7" font-size="10.1" textLength="21.8" lengthAdjust="spacingAndGlyphs"><tspan font-weight="bold">I</tspan>P44</text>
<path fill="none" stroke="#111" stroke-width="1" d="M570.2 663.4H590.4V674H570.2Z"/><path fill="#111" d="M576 664.9H589.1V672.4H576Z M568.6 666.2H570.2V671.4H568.6Z"/>
<text class="ic" x="567" y="686.8" font-size="9.7" textLength="27.2" lengthAdjust="spacingAndGlyphs">AKKU</text>
<text class="ic" x="572.7" y="696" font-size="8.9" textLength="15.6" lengthAdjust="spacingAndGlyphs">incl.</text>
</svg></body></html>
